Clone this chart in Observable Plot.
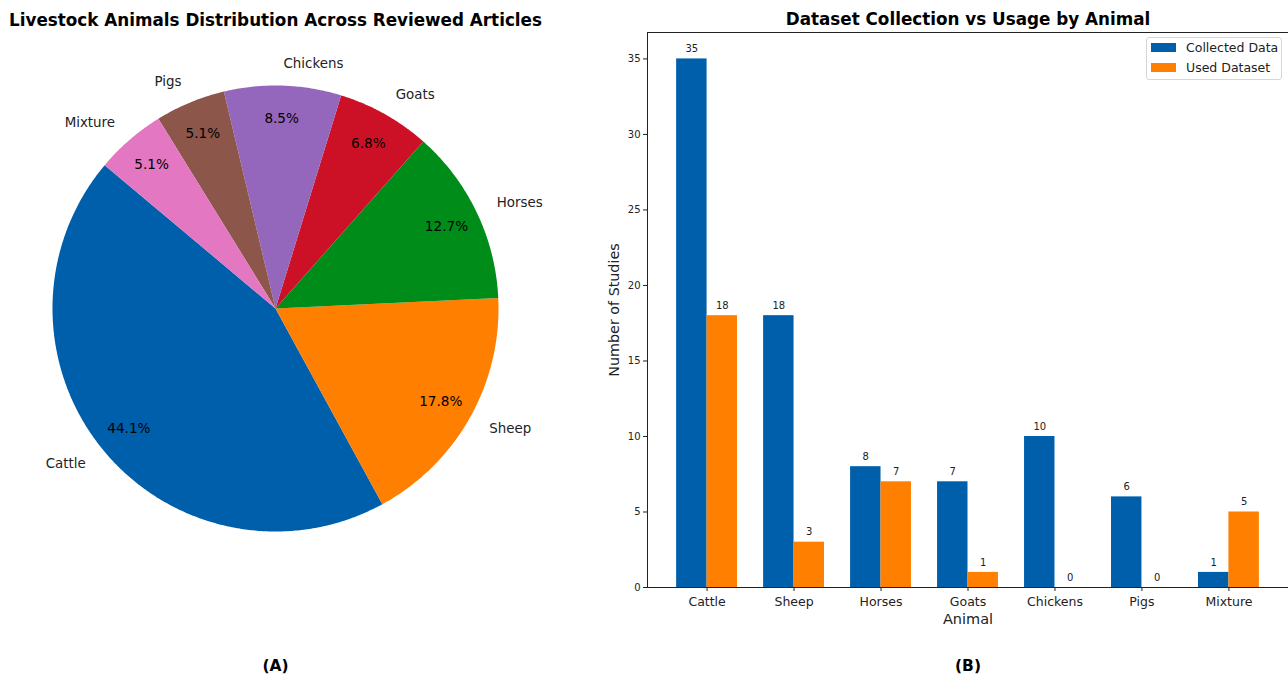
<!DOCTYPE html>
<html>
<head>
<meta charset="utf-8">
<script src="https://cdn.jsdelivr.net/npm/d3@7"></script>
<script src="https://cdn.jsdelivr.net/npm/@observablehq/plot@0.6"></script>
<style>
  html, body { margin: 0; padding: 0; background: #fff; }
  #page { position: relative; width: 1288px; height: 676px; overflow: hidden; font-family: "DejaVu Sans", sans-serif; color: #222; }
  #pie, #bars { position: absolute; top: 0; }
  #pie { left: 0; }
  #bars { left: 560px; }
  #legend {
    position: absolute; left: 1146px; top: 37px; width: 136px; height: 43px;
    border: 1px solid #d6d6d6; border-radius: 3px; background: rgba(255,255,255,0.8);
    box-sizing: border-box; font-size: 12.5px;
  }
  .entry { position: absolute; left: 4px; display: flex; align-items: center; }
  .swatch { width: 25px; height: 9px; margin-right: 10px; }
</style>
</head>
<body>
<div id="page">
  <div id="pie"></div>
  <div id="bars"></div>
  <div id="legend"></div>
</div>
<script>
// Livestock categories and counts
const animals = ["Cattle", "Sheep", "Horses", "Goats", "Chickens", "Pigs", "Mixture"];
const articleCounts = [52, 21, 15, 8, 10, 6, 6];
const collectedData = [35, 18, 8, 7, 10, 6, 1];
const usedDataset = [18, 3, 7, 1, 0, 0, 5];
const yTicks = [0, 5, 10, 15, 20, 25, 30, 35];
const seriesNames = ["Collected Data", "Used Dataset"];

const sliceColors = ["#005faa", "#ff7f00", "#008c19", "#cc1126", "#9467bd", "#8c564b", "#e377c2"];
const seriesColors = ["#005faa", "#ff7f00"];
const font = "DejaVu Sans";

// ---------- Pie chart (A) ----------
const pieW = 550, pieH = 676, cx = 275, cy = 308, R = 223;
const total = d3.sum(articleCounts);
const startAngle = 140; // degrees, counter-clockwise
let cum = 0;
const slices = animals.map((name, i) => {
  const a0 = startAngle + 360 * cum / total;
  cum += articleCounts[i];
  const a1 = startAngle + 360 * cum / total;
  const mid = (a0 + a1) / 2 * Math.PI / 180;
  return {name, a0, a1, pct: 100 * articleCounts[i] / total, cos: Math.cos(mid), sin: Math.sin(mid)};
});

// sector outlines: centre, then points along the arc
const sectorPoints = slices.flatMap(s => {
  const n = Math.max(2, Math.ceil((s.a1 - s.a0) / 0.5));
  const pts = [{name: s.name, x: 0, y: 0}];
  for (let k = 0; k <= n; ++k) {
    const a = (s.a0 + (s.a1 - s.a0) * k / n) * Math.PI / 180;
    pts.push({name: s.name, x: Math.cos(a), y: Math.sin(a)});
  }
  return pts;
});

const pie = Plot.plot({
  width: pieW, height: pieH,
  margin: 0,
  x: {domain: [-cx / R, (pieW - cx) / R], axis: null},
  y: {domain: [-(pieH - cy) / R, cy / R], axis: null},
  color: {domain: animals, range: sliceColors},
  style: {fontFamily: font, color: "#222", background: "transparent"},
  marks: [
    Plot.line(sectorPoints, {x: "x", y: "y", z: "name", fill: "name", stroke: "none", curve: "linear-closed"}),
    Plot.text(slices.filter(s => s.cos < 0), {x: s => 1.1 * s.cos, y: s => 1.1 * s.sin, text: "name", textAnchor: "end", fontSize: 13.4, fill: "#222"}),
    Plot.text(slices.filter(s => s.cos >= 0), {x: s => 1.1 * s.cos, y: s => 1.1 * s.sin, text: "name", textAnchor: "start", fontSize: 13.4, fill: "#222"}),
    Plot.text(slices, {x: s => 0.85 * s.cos, y: s => 0.85 * s.sin, text: s => s.pct.toFixed(1) + "%", fontSize: 13.6, fill: "#000"}),
    Plot.text(["Livestock Animals Distribution Across Reviewed Articles"], {frameAnchor: "top", lineAnchor: "middle", text: d => d, dy: 20, fontSize: 16.8, fontWeight: "bold", fill: "#000"}),
    Plot.text(["(A)"], {frameAnchor: "bottom", lineAnchor: "middle", text: d => d, dy: -10, fontSize: 15.5, fontWeight: "bold", fill: "#000"})
  ]
});
document.getElementById("pie").append(pie);

// ---------- Grouped bar chart (B) ----------
const barW = 728, barH = 676, mL = 87, mR = 0, mT = 32, mB = 89;
const padInner = 0.3, padOuter = 0.335;
const step = (barW - mL - mR) / (animals.length - padInner + 2 * padOuter);
const half = step * (1 - padInner) / 2;
const rows = animals.map((animal, i) => ({animal, collected: collectedData[i], used: usedDataset[i]}));

const bars = Plot.plot({
  width: barW, height: barH,
  marginLeft: mL, marginRight: mR, marginTop: mT, marginBottom: mB,
  x: {domain: animals, paddingInner: padInner, paddingOuter: padOuter, round: false},
  y: {domain: [0, 36.75]},
  style: {fontFamily: font, color: "#222", background: "transparent"},
  marks: [
    Plot.barY(rows, {x: "animal", y: "collected", fill: seriesColors[0], insetRight: half}),
    Plot.barY(rows, {x: "animal", y: "used", fill: seriesColors[1], insetLeft: half}),
    Plot.text(rows, {x: "animal", y: "collected", text: d => String(d.collected), dx: -half / 2, dy: -10, lineAnchor: "middle", fontSize: 10}),
    Plot.text(rows, {x: "animal", y: "used", text: d => String(d.used), dx: half / 2, dy: -10, lineAnchor: "middle", fontSize: 10}),
    Plot.frame({stroke: "#222", strokeWidth: 1}),
    Plot.axisY({ticks: yTicks, tickSize: 4, tickPadding: 3, fontSize: 10, label: null}),
    Plot.axisX({tickSize: 4, tickPadding: 6, fontSize: 12.5, label: null}),
    Plot.text(["Number of Studies"], {frameAnchor: "left", textAnchor: "middle", lineAnchor: "middle", text: d => d, dx: -33, rotate: -90, fontSize: 14.3}),
    Plot.text(["Animal"], {frameAnchor: "bottom", lineAnchor: "middle", text: d => d, dy: 32, fontSize: 14.5}),
    Plot.text(["Dataset Collection vs Usage by Animal"], {frameAnchor: "top", lineAnchor: "middle", text: d => d, dy: -13, fontSize: 16.8, fontWeight: "bold", fill: "#000"}),
    Plot.text(["(B)"], {frameAnchor: "bottom", lineAnchor: "middle", text: d => d, dy: 79, fontSize: 15.5, fontWeight: "bold", fill: "#000"})
  ]
});
document.getElementById("bars").append(bars);

// ---------- Legend ----------
const legend = document.getElementById("legend");
seriesNames.forEach((name, i) => {
  const entry = document.createElement("div");
  entry.className = "entry";
  entry.style.top = (i === 0 ? 2 : 22) + "px";
  const sw = document.createElement("span");
  sw.className = "swatch";
  sw.style.background = seriesColors[i];
  const label = document.createElement("span");
  label.textContent = name;
  entry.append(sw, label);
  legend.append(entry);
});
</script>
</body>
</html>
